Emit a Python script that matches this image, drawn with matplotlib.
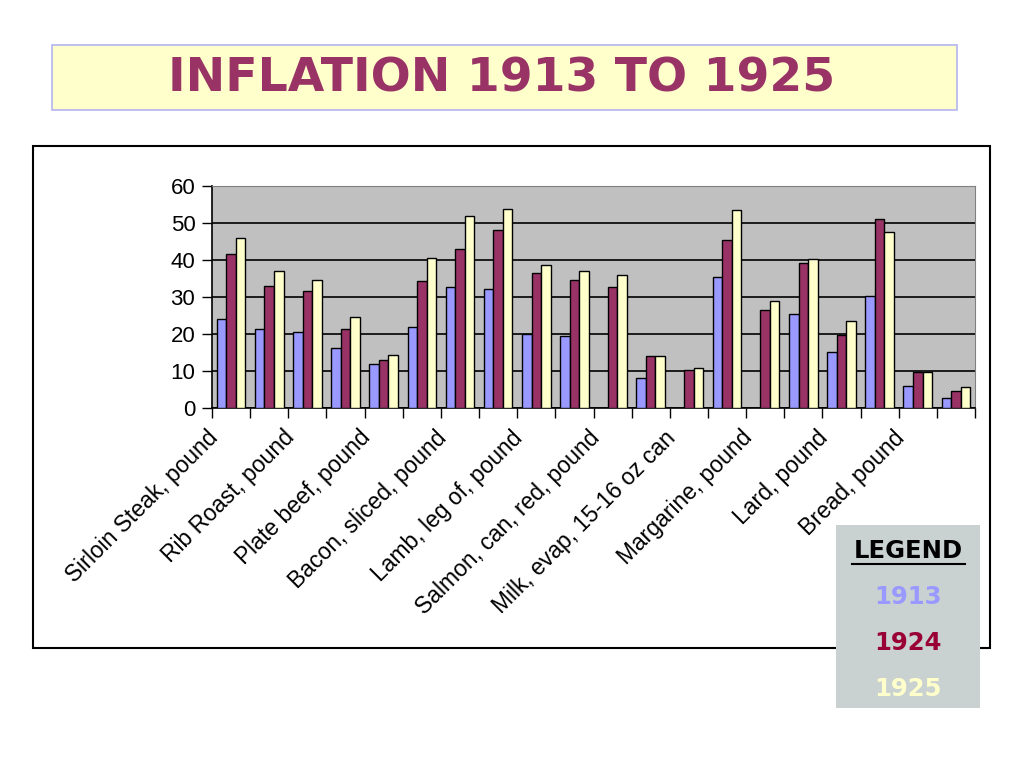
import numpy as np
import matplotlib.pyplot as plt
from matplotlib.patches import Rectangle
from matplotlib.transforms import ScaledTranslation

# 20 food items; only every other label is shown on the axis (as in the source)
items = [
    "Sirloin Steak, pound", "Round Steak, pound", "Rib Roast, pound",
    "Chuck Roast, pound", "Plate beef, pound", "Pork chops, pound",
    "Bacon, sliced, pound", "Ham, sliced, pound", "Lamb, leg of, pound",
    "Hens, pound", "Salmon, can, red, pound", "Milk, fresh, quart",
    "Milk, evap, 15-16 oz can", "Butter, pound", "Margarine, pound",
    "Cheese, pound", "Lard, pound", "Eggs, dozen", "Bread, pound",
    "Flour, pound",
]
years = ["1913", "1924", "1925"]
price_1913 = [24.0, 21.3, 20.5, 16.2, 12.0, 21.8, 32.6, 32.2, 20.0, 19.5,
              np.nan, 8.0, np.nan, 35.4, np.nan, 25.5, 15.1, 30.2, 6.0, 2.8]
price_1924 = [41.5, 33.0, 31.7, 21.3, 13.0, 34.2, 43.0, 48.2, 36.5, 34.6,
              32.7, 14.1, 10.4, 45.3, 26.4, 39.2, 19.8, 51.1, 9.7, 4.6]
price_1925 = [46.0, 37.0, 34.5, 24.7, 14.2, 40.6, 52.0, 53.8, 38.6, 37.0,
              36.0, 14.1, 10.8, 53.5, 28.8, 40.2, 23.6, 47.7, 9.7, 5.7]
colors = ["#9999FF", "#993366", "#FFFFCC"]
legend_colors = ["#9999FF", "#990033", "#FFFFCC"]

plt.rcParams["font.family"] = ["Liberation Sans", "DejaVu Sans"]

fig = plt.figure(figsize=(10.24, 7.68), dpi=100)
fig.patch.set_facecolor("white")

# title banner
fig.patches.append(Rectangle((52 / 1024, 1 - 110 / 768), 905 / 1024, 65 / 768,
                             transform=fig.transFigure, facecolor="#FFFFCC",
                             edgecolor="#B4B4F0", linewidth=1.2, zorder=-2))
fig.text(502 / 1024, 1 - 79 / 768, "INFLATION 1913 TO 1925", ha="center",
         va="center", fontsize=34, fontweight="bold", color="#993366",
         family="DejaVu Sans")

# chart frame
fig.patches.append(Rectangle((33 / 1024, 1 - 648 / 768), 957 / 1024, 502 / 768,
                             transform=fig.transFigure, facecolor="white",
                             edgecolor="black", linewidth=1.5, zorder=-1))

ax = fig.add_axes([212 / 1024, 1 - 408 / 768, 763 / 1024, 222 / 768])
ax.set_facecolor("#C0C0C0")

x = np.arange(len(items))
w = 0.25
for i, (vals, c) in enumerate(zip([price_1913, price_1924, price_1925], colors)):
    ax.bar(x + (i - 1) * w, vals, w, color=c, edgecolor="black",
           linewidth=1.0, zorder=3, label=years[i])

ax.set_xlim(-0.5, len(items) - 0.5)
ax.set_ylim(0, 60)
ax.set_yticks(range(0, 61, 10))
ax.yaxis.grid(True, color="black", linewidth=1.2, zorder=1)
ax.tick_params(axis="y", labelsize=16, length=7, width=1, pad=5)

ax.set_xticks(x[::2])
ax.set_xticklabels(items[::2], rotation=45, ha="right",
                   rotation_mode="anchor", fontsize=16.5)
ax.set_xticks(np.arange(-0.5, len(items), 1), minor=True)
ax.tick_params(axis="x", which="major", length=0, pad=13)
ax.tick_params(axis="x", which="minor", length=7, width=1)
shift = ScaledTranslation(-25 / 100, 0, fig.dpi_scale_trans)
for lbl in ax.get_xticklabels():
    lbl.set_transform(lbl.get_transform() + shift)

for s in ["top", "right"]:
    ax.spines[s].set_color("#808080")
for s in ["left", "bottom"]:
    ax.spines[s].set_color("black")
    ax.spines[s].set_linewidth(1.2)

# legend panel
fig.patches.append(Rectangle((836 / 1024, 1 - 708 / 768), 144 / 1024, 183 / 768,
                             transform=fig.transFigure, facecolor="#C9D1D1",
                             edgecolor="none", zorder=5))
lx = 908 / 1024
fig.text(lx, 1 - 551 / 768, "LEGEND", ha="center", va="center", fontsize=17.5,
         fontweight="bold", color="black", family="DejaVu Sans", zorder=6)
fig.add_artist(plt.Line2D([852 / 1024, 965 / 1024], [1 - 564 / 768, 1 - 564 / 768],
                          transform=fig.transFigure, color="black",
                          linewidth=1.5, zorder=6))
for k, (yr, c) in enumerate(zip(years, legend_colors)):
    fig.text(lx, 1 - (597 + 46 * k) / 768, yr, ha="center", va="center",
             fontsize=17.5, fontweight="bold", color=c, family="DejaVu Sans",
             zorder=6)

fig.savefig("out.png", dpi=100)
